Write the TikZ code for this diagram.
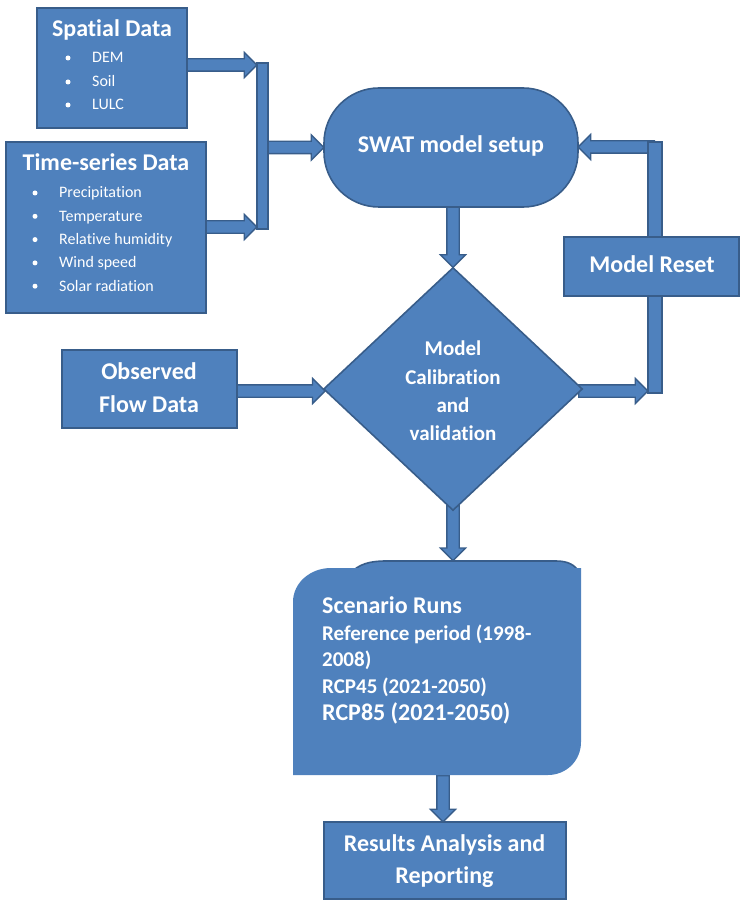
\documentclass[tikz,border=0pt]{standalone}
\usepackage{fontspec}
\setmainfont{Carlito}[Ligatures=NoCommon]
\usetikzlibrary{shapes.geometric,shapes.arrows,calc}
\definecolor{fillc}{RGB}{79,129,189}
\definecolor{edgec}{RGB}{56,93,138}
\pgfdeclarelayer{arrl}
\pgfdeclarelayer{barl}
\pgfsetlayers{arrl,barl,main}
\tikzset{
 box/.style={draw=edgec, fill=fillc, line width=1.6pt, inner sep=0pt, rectangle},
 barrowstyle/.style={single arrow, draw=edgec, fill=fillc, line width=1.3pt,
   single arrow head extend=6.5pt, single arrow tip angle=90, single arrow head indent=0pt,
   inner xsep=0pt, inner ysep=5.5pt, text height=0pt, text depth=0pt, minimum width=0pt},
 lab/.style={text=white, font=\bfseries\fontsize{24}{24}\selectfont, inner sep=0pt, anchor=base},
 dlab/.style={text=white, font=\bfseries\fontsize{21}{21}\selectfont, inner sep=0pt, anchor=base},
 slab/.style={text=white, font=\bfseries\fontsize{21}{21}\selectfont, inner sep=0pt, anchor=base west},
 blt/.style={text=white, font=\fontsize{16}{16}\selectfont, inner sep=0pt, anchor=base west},
 bdot/.style={circle, fill=white, minimum size=5pt, inner sep=0pt},
}
\newcommand\blockarrow[3]{\path let \p1=(#2), \p2=(#3), \n1={veclen(\x2-\x1,\y2-\y1)},
  \n2={atan2(\y2-\y1,\x2-\x1)} in node[barrowstyle, minimum height=\n1, rotate=\n2, anchor=tail] (#1) at (\p1) {};}
\begin{document}
\begin{tikzpicture}[x=1pt,y=-1pt]
\useasboundingbox (0,0) rectangle (741,909);

% boxes
\node[box, minimum width=150, minimum height=120] (sp) at (112,68) {};
\node[lab] (spT) at (112,37) {Spatial Data};
\node[bdot] (spd1) at (68,58) {};
\node[bdot] (spd2) at (68,82) {};
\node[bdot] (spd3) at (68,105) {};
\node[blt] (spl1) at (92,63) {DEM};
\node[blt] (spl2) at (92,87) {Soil};
\node[blt] (spl3) at (92,110) {LULC};

\node[box, minimum width=200, minimum height=171] (ts) at (106,227.5) {};
\node[lab] (tsT) at (106,171) {Time-series Data};
\foreach \t [count=\i] in {Precipitation,Temperature,Relative humidity,Wind speed,Solar radiation}{
  \node[bdot] (tsd\i) at (35,{198+23.3*(\i-1)-5}) {};
  \node[blt] (tsl\i) at (59,{198+23.3*(\i-1)}) {\t};
}

\node[box, minimum width=175, minimum height=78] (obs) at (149.5,389) {};
\node[lab] (obs1) at (149,379.5) {Observed};
\node[lab] (obs2) at (149,412.8) {Flow Data};

\node[box, minimum width=254, minimum height=119, rounded corners=55pt] (swat) at (451,147.5) {};
\node[lab] (swatT) at (451,153) {SWAT model setup};

\node[box, diamond, minimum width=259, minimum height=243, shape aspect=1.066] (dia) at (453,389) {};
\node[dlab] (dia1) at (453,355.7) {Model};
\node[dlab] (dia2) at (453,384.3) {Calibration};
\node[dlab] (dia3) at (453,412.3) {and};
\node[dlab] (dia4) at (453,440.7) {validation};

\node[box, minimum width=175, minimum height=59] (reset) at (651.5,266.5) {};
\node[lab] (resetT) at (652,272) {Model Reset};

\node[box, minimum width=242, minimum height=77] (res) at (445,860.5) {};
\node[lab] (res1) at (444.5,851.7) {Results Analysis and};
\node[lab] (res2) at (444.5,883.3) {Reporting};

% scenario shape
\draw[edgec, fill=fillc, line width=1.6pt] (350,574) .. controls (358,564) and (370,561) .. (386,561)
   -- (556,561) .. controls (568,561) and (575,565) .. (579,572) -- cycle;
\fill[fillc] (293,775) -- (293,602) .. controls (293,583) and (310,568) .. (331,568) -- (581,568)
   -- (581,742) .. controls (581,761) and (566,775) .. (548,775) -- cycle;
\node[lab, anchor=base west] (sc1) at (322,613) {Scenario Runs};
\node[slab] (sc2) at (322,640) {Reference period (1998-};
\node[slab] (sc3) at (322,666) {2008)};
\node[slab] (sc4) at (322,693) {RCP45 (2021-2050)};
\node[lab, anchor=base west] (sc5) at (322,720) {RCP85 (2021-2050)};
\coordinate (scTop) at (453,560);
\coordinate (scBot) at (443,775);

% bars
\begin{pgfonlayer}{barl}
\node[box, minimum width=11, minimum height=166] (lbar) at (262.5,146) {};
\node[box, minimum width=14, minimum height=251] (rbar) at (655,267.5) {};
\end{pgfonlayer}

% arrow end points
\coordinate (a1s) at (186,65);   \coordinate (a1e) at (lbar.west |- a1s);
\coordinate (a2s) at (205,227);  \coordinate (a2e) at (lbar.west |- a2s);
\coordinate (a3s) at (262,147.5); \coordinate (a3e) at (swat.west |- a3s);
\coordinate (a5s) at (236,391);  \coordinate (a5e) at (324.5,391);
\coordinate (a6s) at (578,391);  \coordinate (a6e) at (rbar.west |- a6s);
\coordinate (a7s) at (655,147);  \coordinate (a7e) at (swat.east |- a7s);
\coordinate (a4s) at (453,200);  \coordinate (a4e) at (dia.north);
\coordinate (a8s) at (453,505);
\coordinate (a9e) at (scBot |- res.north);

\begin{pgfonlayer}{arrl}
\blockarrow{ar1}{a1s}{a1e}
\blockarrow{ar2}{a2s}{a2e}
\blockarrow{ar3}{a3s}{a3e}
\blockarrow{ar4}{a4s}{a4e}
\blockarrow{ar5}{a5s}{a5e}
\blockarrow{ar6}{a6s}{a6e}
\blockarrow{ar7}{a7s}{a7e}
\blockarrow{ar8}{a8s}{scTop}
\blockarrow{ar9}{scBot}{a9e}
\end{pgfonlayer}
\end{tikzpicture}
\end{document}
